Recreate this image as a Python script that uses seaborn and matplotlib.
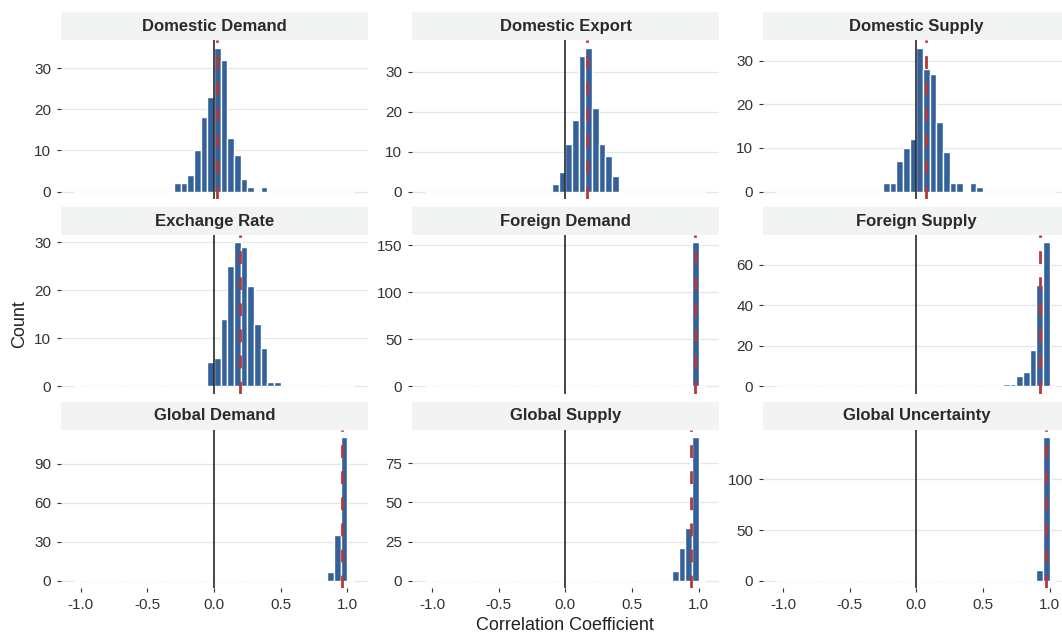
import numpy as np
import pandas as pd
import matplotlib
matplotlib.use("Agg")
import matplotlib.pyplot as plt
from matplotlib.patches import Rectangle
import seaborn as sns

# ---- data: histogram bins (left edge, width 0.05) and counts per shock ----
factors = [
    "Domestic Demand", "Domestic Export", "Domestic Supply",
    "Exchange Rate", "Foreign Demand", "Foreign Supply",
    "Global Demand", "Global Supply", "Global Uncertainty",
]

domestic_demand_left = [-0.30, -0.25, -0.20, -0.15, -0.10, -0.05, 0.00, 0.05, 0.10, 0.15, 0.20, 0.25, 0.30, 0.35]
domestic_demand_count = [2, 2, 4, 10, 18, 23, 35, 32, 13, 9, 3, 1, 0, 1]

domestic_export_left = [-0.10, -0.05, 0.00, 0.05, 0.10, 0.15, 0.20, 0.25, 0.30, 0.35]
domestic_export_count = [2, 5, 12, 18, 34, 36, 21, 12, 9, 4]

domestic_supply_left = [-0.25, -0.20, -0.15, -0.10, -0.05, 0.00, 0.05, 0.10, 0.15, 0.20, 0.25, 0.30, 0.35, 0.40, 0.45]
domestic_supply_count = [2, 2, 7, 10, 12, 33, 28, 27, 16, 9, 2, 2, 0, 2, 1]

exchange_rate_left = [-0.05, 0.00, 0.05, 0.10, 0.15, 0.20, 0.25, 0.30, 0.35, 0.40, 0.45]
exchange_rate_count = [5, 6, 14, 25, 30, 29, 21, 13, 8, 1, 1]

foreign_demand_left = [0.95]
foreign_demand_count = [153]

foreign_supply_left = [0.65, 0.70, 0.75, 0.80, 0.85, 0.90, 0.95]
foreign_supply_count = [1, 1, 5, 7, 18, 50, 71]

global_demand_left = [0.85, 0.90, 0.95]
global_demand_count = [7, 35, 111]

global_supply_left = [0.80, 0.85, 0.90, 0.95]
global_supply_count = [6, 21, 34, 92]

global_uncertainty_left = [0.90, 0.95]
global_uncertainty_count = [11, 142]

y_ticks = [
    [0, 10, 20, 30], [0, 10, 20, 30], [0, 10, 20, 30],
    [0, 10, 20, 30], [0, 50, 100, 150], [0, 20, 40, 60],
    [0, 30, 60, 90], [0, 25, 50, 75], [0, 50, 100],
]
x_ticks = [-1.0, -0.5, 0.0, 0.5, 1.0]
x_tick_labels = ["-1.0", "-0.5", "0.0", "0.5", "1.0"]

panels = [
    (domestic_demand_left, domestic_demand_count),
    (domestic_export_left, domestic_export_count),
    (domestic_supply_left, domestic_supply_count),
    (exchange_rate_left, exchange_rate_count),
    (foreign_demand_left, foreign_demand_count),
    (foreign_supply_left, foreign_supply_count),
    (global_demand_left, global_demand_count),
    (global_supply_left, global_supply_count),
    (global_uncertainty_left, global_uncertainty_count),
]

# ---- style ----
sns.set_theme(style="white")
plt.rcParams["font.family"] = ["Liberation Sans", "DejaVu Sans"]
plt.rcParams["axes.unicode_minus"] = False

BAR = "#34619a"
MEAN = "#b3393a"
ZERO = "#1e1e1e"
STRIP = "#f2f3f3"
GRID = "#e6e6e6"
TEXT = "#333333"

W, H = 1062, 632
fig = plt.figure(figsize=(W / 100, H / 100), dpi=100)

bin_width = 0.05
bin_range = (-1.05, 1.05)

col_left = [60.7, 412.0, 763.0]
row_top = [40.3, 235.2, 429.5]
ax_w, ax_h = 307.3, 158.5
strip_h = 28.0

for i, (name, (lefts, counts)) in enumerate(zip(factors, panels)):
    r, c = divmod(i, 3)
    ax = fig.add_axes([col_left[c] / W, 1 - (row_top[r] + ax_h) / H, ax_w / W, ax_h / H])
    ax.set_axisbelow(True)

    centers = np.asarray(lefts) + bin_width / 2
    df = pd.DataFrame({"r": centers, "n": counts})
    sns.histplot(data=df, x="r", weights="n", binwidth=bin_width, binrange=bin_range,
                 color=BAR, alpha=1, edgecolor="white", linewidth=1.0, ax=ax)

    mean_r = np.average(centers, weights=counts)
    ax.axvline(0, color=ZERO, lw=1.15, zorder=3)
    ax.axvline(mean_r, color=MEAN, lw=2.0, ls=(0, (4.6, 4.8)), zorder=4)

    top = max(counts)
    ax.set_xlim(-1.15, 1.155)
    ax.set_ylim(-0.05 * top, 1.05 * top)
    ax.set_yticks(y_ticks[i])
    ax.grid(axis="y", color=GRID, lw=0.9)
    ax.grid(axis="x", visible=False)
    for s in ax.spines.values():
        s.set_visible(False)
    ax.set_xlabel("")
    ax.set_ylabel("")

    ax.tick_params(axis="y", left=True, length=3, width=0.8, color=TEXT,
                   pad=4, labelsize=11, labelcolor=TEXT)
    if r == 2:
        ax.set_xticks(x_ticks)
        ax.set_xticklabels(x_tick_labels)
        ax.tick_params(axis="x", bottom=True, length=3, width=0.8, color=TEXT,
                       pad=4, labelsize=11, labelcolor=TEXT)
    else:
        ax.set_xticks([])

    sh = strip_h / ax_h
    ax.add_patch(Rectangle((0, 1), 1, sh, transform=ax.transAxes, clip_on=False,
                           facecolor=STRIP, edgecolor="none", zorder=0))
    ax.text(0.5, 1 + sh / 2, name, transform=ax.transAxes, ha="center", va="center",
            fontsize=12, fontweight="bold", color="#2a2a2a")

fig.text(20 / W, 1 - 324 / H, "Count", rotation=90, ha="center", va="center",
         fontsize=13, color="#222222")
fig.text(565 / W, 1 - 625 / H, "Correlation Coefficient", ha="center", va="center",
         fontsize=13, color="#222222")

fig.savefig("out.png", dpi=100)
